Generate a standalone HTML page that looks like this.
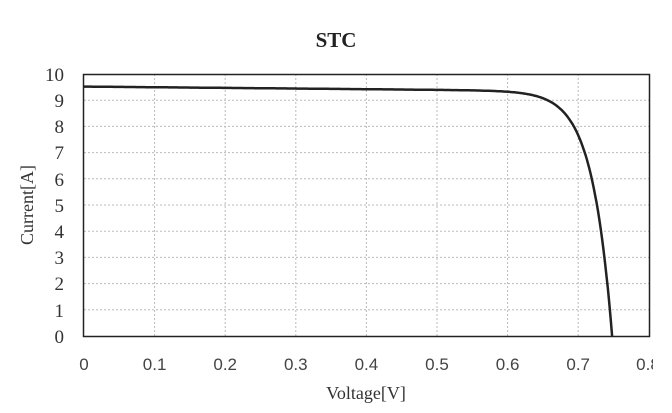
<!DOCTYPE html>
<html><head><meta charset="utf-8"><style>
body{margin:0;background:#fff;}
svg{display:block}
text{font-family:"Liberation Serif",serif;fill:#333}
.t{font-family:"Liberation Sans",sans-serif;font-size:17px;fill:#444}
</style></head><body>
<svg width="672" height="413" viewBox="0 0 672 413" xmlns="http://www.w3.org/2000/svg">
<text x="336" y="47" text-anchor="middle" font-size="21" font-weight="bold" style="fill:#222">STC</text>
<g stroke="#bbb" stroke-dasharray="2,2" stroke-width="1">
<line x1="84" x2="649" y1="100.2" y2="100.2"/><line x1="84" x2="649" y1="126.4" y2="126.4"/><line x1="84" x2="649" y1="152.6" y2="152.6"/><line x1="84" x2="649" y1="178.8" y2="178.8"/><line x1="84" x2="649" y1="205" y2="205"/><line x1="84" x2="649" y1="231.2" y2="231.2"/><line x1="84" x2="649" y1="257.4" y2="257.4"/><line x1="84" x2="649" y1="283.6" y2="283.6"/><line x1="84" x2="649" y1="309.8" y2="309.8"/>
<line y1="74" y2="336" x1="154.6" x2="154.6"/><line y1="74" y2="336" x1="225.2" x2="225.2"/><line y1="74" y2="336" x1="295.8" x2="295.8"/><line y1="74" y2="336" x1="366.4" x2="366.4"/><line y1="74" y2="336" x1="437" x2="437"/><line y1="74" y2="336" x1="507.6" x2="507.6"/><line y1="74" y2="336" x1="578.2" x2="578.2"/>
</g>
<rect x="83.5" y="74.5" width="566" height="262" fill="none" stroke="#222" stroke-width="1.5"/>
<path id="c" fill="none" stroke="#222" stroke-width="2.5"/>
<g font-size="19" text-anchor="end">
<text x="64" y="81">10</text><text x="64" y="107">9</text><text x="64" y="133">8</text><text x="64" y="159">7</text><text x="64" y="186">6</text><text x="64" y="212">5</text><text x="64" y="238">4</text><text x="64" y="264">3</text><text x="64" y="290">2</text><text x="64" y="317">1</text><text x="64" y="343">0</text>
</g>
<g class="t" text-anchor="middle">
<text class="t" x="84" y="370">0</text><text class="t" x="154.6" y="370">0.1</text><text class="t" x="225.2" y="370">0.2</text><text class="t" x="295.8" y="370">0.3</text><text class="t" x="366.4" y="370">0.4</text><text class="t" x="437" y="370">0.5</text><text class="t" x="507.6" y="370">0.6</text><text class="t" x="578.2" y="370">0.7</text><text class="t" x="648" y="370">0.8</text>
</g>
<rect x="653" y="350" width="19" height="30" fill="#fff"/>
<text x="366" y="399" text-anchor="middle" font-size="18">Voltage[V]</text>
<text transform="translate(33,205) rotate(-90)" text-anchor="middle" font-size="18">Current[A]</text>
</svg>
<script>
var a=0.028,voc=0.748,isc=9.52,d="";
function I(v){return isc-0.25*v-(isc-0.25*voc)*(Math.exp((v-voc)/a));}
for(var v=0;v<=voc+1e-9;v+=0.002){var i=Math.max(0,I(v));d+=(d?"L":"M")+(84+v*706).toFixed(1)+","+(336-i*26.2).toFixed(1);}
d+="L"+(84+voc*706).toFixed(1)+",336";
document.getElementById("c").setAttribute("d",d);
</script>
</body></html>
